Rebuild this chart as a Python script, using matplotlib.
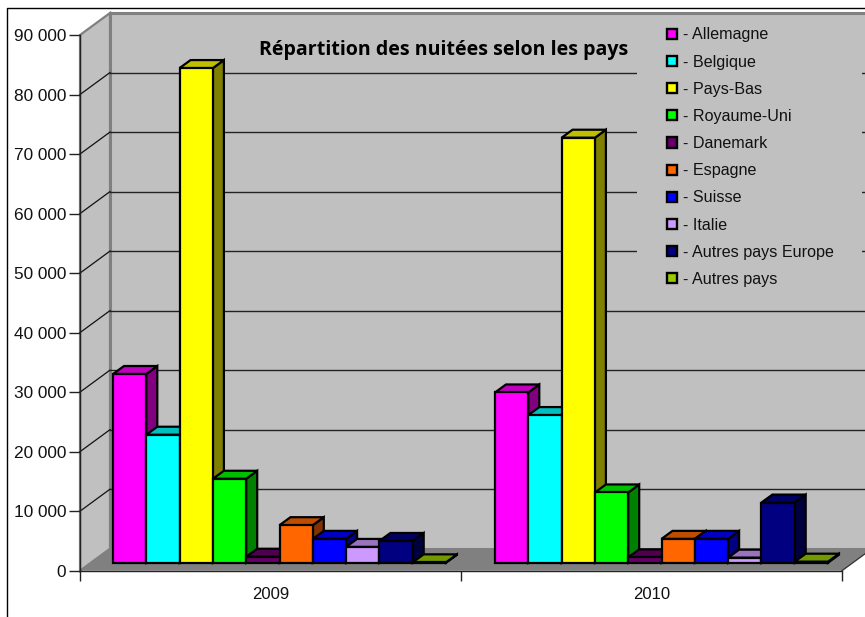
import matplotlib
matplotlib.use("Agg")
import matplotlib.pyplot as plt
from matplotlib.patches import Polygon, Rectangle
from matplotlib.lines import Line2D
from matplotlib.colors import to_rgb

years = ["2009", "2010"]
countries = ["Allemagne", "Belgique", "Pays-Bas", "Royaume-Uni", "Danemark",
             "Espagne", "Suisse", "Italie", "Autres pays Europe", "Autres pays"]
values_2009 = [31700, 21500, 83100, 14100, 1000, 6300, 4000, 2650, 3650, 60]
values_2010 = [28600, 24800, 71400, 11800, 900, 4000, 4000, 850, 10100, 170]
colors = ["#FF00FF", "#00FFFF", "#FFFF00", "#00FF00", "#660066",
          "#FF6600", "#0000FF", "#CC99FF", "#000080", "#99CC00"]
yticks = list(range(0, 90001, 10000))
title = "Répartition des nuitées selon les pays"

W, H = 865, 617
X0, X1, Y0, Y9 = 80, 842, 570.7, 35
fig = plt.figure(figsize=(W / 100, H / 100), dpi=100)
ax = fig.add_axes([X0 / W, 1 - Y0 / H, (X1 - X0) / W, (Y0 - Y9) / H])
ax.set_xlim(0, 2)
ax.set_ylim(0, 90000)
ax.patch.set_visible(False)

px_x = 2 / (X1 - X0)
px_y = 90000 / (Y0 - Y9)
wall_dx, wall_dy = 30 * px_x, 22 * px_y
bar_x0, bar_y0 = 33 * px_x, 8 * px_y
group_shift = [0, 1 * px_x]
bar_w = 33.3 * px_x
bar_dx, bar_dy = 11 * px_x, 8 * px_y

WALL, FLOOR, EDGE = "#C0C0C0", "#808080", "#808080"
top = 90000
ax.add_patch(Polygon([(wall_dx, wall_dy), (2 + wall_dx, wall_dy), (2 + wall_dx, top + wall_dy), (wall_dx, top + wall_dy)],
                     fc=WALL, ec=EDGE, lw=2.2, clip_on=False, zorder=1))
ax.add_patch(Polygon([(0, 0), (wall_dx, wall_dy), (wall_dx, top + wall_dy), (0, top)],
                     fc=WALL, ec=EDGE, lw=1.6, clip_on=False, zorder=1))
ax.add_patch(Polygon([(0, 0), (2, 0), (2 + wall_dx, wall_dy), (wall_dx, wall_dy)],
                     fc=FLOOR, ec="none", clip_on=False, zorder=1))
ax.plot([2, 2 + wall_dx], [0, wall_dy], color="#303030", lw=0.9, clip_on=False, zorder=1.2)
for v in yticks[1:-1]:
    ax.plot([0, wall_dx], [v, v + wall_dy], color="#111111", lw=0.9, clip_on=False, zorder=1.5)
    ax.plot([wall_dx, 2 + wall_dx], [v + wall_dy, v + wall_dy], color="#222222", lw=1.0, clip_on=False, zorder=1.5)

# legend background hides the grid
ax.add_patch(Rectangle(((637 - X0) * px_x, (Y0 - 296) * px_y), 225 * px_x, 280 * px_y,
                       fc=WALL, ec="none", clip_on=False, zorder=1.7))


def shade(c, f):
    return tuple(x * f for x in to_rgb(c))


z = 3
for g, vals in enumerate([values_2009, values_2010]):
    for i, (v, c) in enumerate(zip(vals, colors)):
        x = g + group_shift[g] + bar_x0 + i * bar_w
        y = bar_y0
        t = y + v
        kw = dict(ec="black", lw=1.6, joinstyle="miter", clip_on=False, zorder=z)
        ax.add_patch(Polygon([(x + bar_w, y), (x + bar_w + bar_dx, y + bar_dy),
                              (x + bar_w + bar_dx, t + bar_dy), (x + bar_w, t)], fc=shade(c, 0.5), **kw))
        ax.add_patch(Polygon([(x, t), (x + bar_dx, t + bar_dy), (x + bar_w + bar_dx, t + bar_dy),
                              (x + bar_w, t)], fc=shade(c, 0.75), **kw))
        ax.add_patch(Rectangle((x, y), bar_w, v, fc=c, **kw))
        z += 0.1

FONT = "Liberation Sans"
TXT = "#111111"
for s in ("top", "right"):
    ax.spines[s].set_visible(False)
for s in ("left", "bottom"):
    ax.spines[s].set_color("#222222")
    ax.spines[s].set_linewidth(1.0)
    ax.spines[s].set_zorder(2)
ax.set_yticks(yticks)
ax.set_yticklabels([f"{v:,}".replace(",", " ") for v in yticks], fontname=FONT, fontsize=12.4, color=TXT)
ax.tick_params(axis="y", length=8, width=1, color="#222222", pad=2)
ax.set_xticks([0, 1, 2])
ax.set_xticklabels([])
ax.tick_params(axis="x", length=7.5, width=1, color="#222222")
ax.set_xticks([0.5, 1.5], minor=True)
ax.set_xticklabels(years, minor=True, fontname=FONT, fontsize=12, color=TXT)
ax.tick_params(axis="x", which="minor", length=0, pad=12)

ax.text((443.5 - X0) * px_x, (Y0 - 50.5) * px_y, title, ha="center", va="center",
        fontname="Open Sans", fontweight="bold", fontsize=14.1, color="black", zorder=10)

handles = [Rectangle((0, 0), 1, 1, fc=c, ec="black", lw=1.7) for c in colors]
leg = ax.legend(handles, [f"- {n}" for n in countries], loc="upper left",
                bbox_to_anchor=(667 / W, 1 - 27.5 / H), bbox_transform=fig.transFigure,
                frameon=False, prop={"family": FONT, "size": 11.6}, labelcolor=TXT,
                handlelength=0.6, handleheight=0.6, handletextpad=0.38,
                labelspacing=0.755, borderpad=0, borderaxespad=0)
leg.set_zorder(10)

fig.add_artist(Line2D([7 / W, 7 / W, 1], [0, 1 - 8 / H, 1 - 8 / H], color="black", lw=1.0))
fig.savefig("out.png", dpi=100)
